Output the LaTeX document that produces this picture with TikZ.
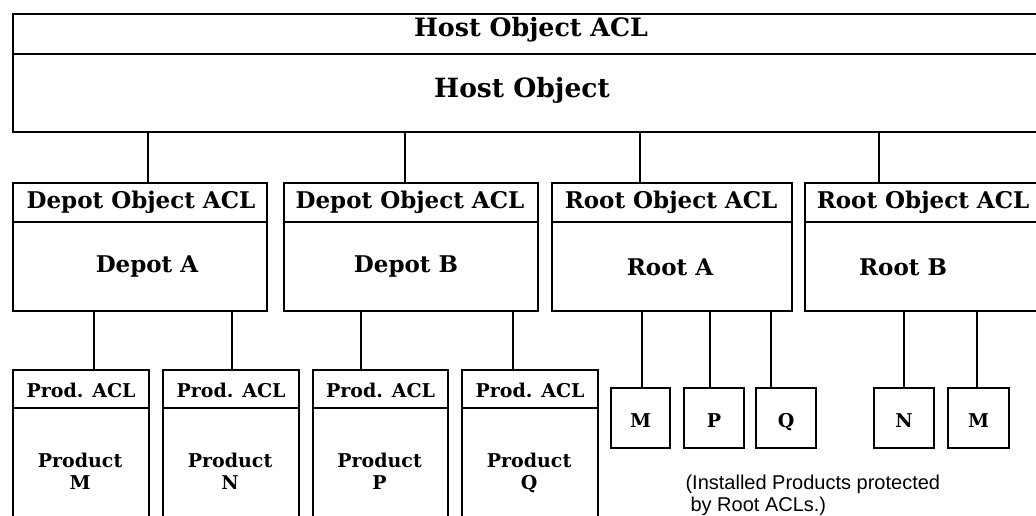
\documentclass[tikz,border=0pt]{standalone}
\usepackage{fontspec}
\usetikzlibrary{calc}
\newfontfamily\capfont{Liberation Sans}
\newfontfamily\schfont{DejaVu Serif}
\begin{document}
\begin{tikzpicture}[x=1pt,y=-1pt,
  box/.style={draw,line width=2.2pt,inner sep=0pt,anchor=north west},
  wire/.style={line width=2.2pt},
  huge/.style={font=\schfont\bfseries\fontsize{25.3}{29}\selectfont},
  big/.style={font=\schfont\bfseries\fontsize{23}{27}\selectfont},
  sml/.style={font=\schfont\bfseries\fontsize{19}{22}\selectfont},
  captxt/.style={font=\capfont\fontsize{20}{22}\selectfont,align=left,anchor=west}]
\useasboundingbox (0,0) rectangle (1036,516);
\clip (0,0) rectangle (1036,516);
% host
\node[box,minimum width=1044pt,minimum height=40pt] (hosth) at (12,13) {};
\node[box,minimum width=1044pt,minimum height=78pt] (hostb) at (12,53) {};
\node[huge] (hostht) at (531,30) {Host Object ACL};
\node[huge,font=\schfont\bfseries\fontsize{26.5}{30}\selectfont] (hostbt) at (522,90) {Host Object};
% level 2
\node[box,minimum width=254pt,minimum height=39pt] (dah) at (12,182) {};
\node[box,minimum width=254pt,minimum height=89pt] (dab) at (12,221) {};
\node[box,minimum width=254pt,minimum height=39pt] (dbh) at (283,182) {};
\node[box,minimum width=254pt,minimum height=89pt] (dbb) at (283,221) {};
\node[box,minimum width=240pt,minimum height=39pt] (rah) at (551,182) {};
\node[box,minimum width=240pt,minimum height=89pt] (rab) at (551,221) {};
\node[box,minimum width=238pt,minimum height=39pt] (rbh) at (804,182) {};
\node[box,minimum width=238pt,minimum height=89pt] (rbb) at (804,221) {};
\node[big] (dat) at (141,202) {Depot Object ACL};
\node[big] (dabt) at (147,267) {Depot A};
\node[big] (dbt) at (410,202) {Depot Object ACL};
\node[big] (dbbt) at (406,267) {Depot B};
\node[big] (rat) at (671,202) {Root Object ACL};
\node[big] (rabt) at (670,267) {Root A};
\node[big] (rbt) at (923,202) {Root Object ACL};
\node[big] (rbbt) at (903,267) {Root B};
% products
\foreach \n/\l/\r/\t in {pm/12/148/M,pn/162/298/N,pp/312/447/P,pq/461/597/Q}{
  \node[box,minimum width=\r pt-\l pt,minimum height=38pt] (\n h) at (\l,369) {};
  \node[box,minimum width=\r pt-\l pt,minimum height=130pt] (\n b) at (\l,407) {};
  \node[sml] (\n ht) at ($(\n h.center)+(0,1)$) {Prod. ACL};
  \node[sml,anchor=base] (\n bt) at ($(\n h.south)+(-1,58)$) {Product};
  \node[sml,anchor=base] (\n bl) at ($(\n h.south)+(-1,80)$) {\t};
}
% small root products
\foreach \n/\l/\r/\t in {ram/610/669/M,rap/683/743/P,raq/755/815/Q,rbn/873/933/N,rbm/947/1008/M}{
  \node[box,minimum width=\r pt-\l pt,minimum height=60pt] (\n) at (\l,387) {};
  \node[sml,anchor=base] (\n t) at ($(\n.north)+(0,40)$) {\t};
}
% connectors
\foreach \x/\a/\b in {148/hostb/dah,405/hostb/dbh,640/hostb/rah,879/hostb/rbh,
  94/dab/pmh,232/dab/pnh,361/dbb/pph,513/dbb/pqh,
  642/rab/ram,710/rab/rap,771/rab/raq,904/rbb/rbn,977/rbb/rbm}{
  \coordinate (c) at (\x,0);
  \draw[wire] (\a.south -| c) -- (\b.north -| c);
}
\node[captxt] (capt) at (682,495) {(Installed Products protected\\\hspace{5pt}by Root ACLs.)};
\end{tikzpicture}
\end{document}
